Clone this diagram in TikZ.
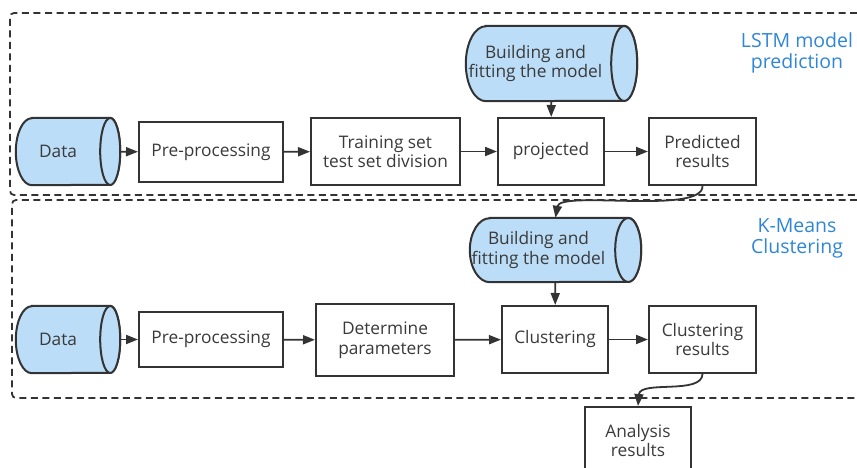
\documentclass[tikz,border=0pt]{standalone}
\usepackage{fontspec}
\setmainfont{Open Sans}
\usetikzlibrary{arrows.meta,backgrounds}

\definecolor{cylblue}{HTML}{BCDDF7}
\definecolor{ink}{HTML}{3A3A3A}
\definecolor{tagblue}{HTML}{2F86D6}
\definecolor{edge}{HTML}{333333}

\tikzset{
  box/.style={draw=edge, line width=2pt, fill=white, text=ink, align=center,
    font=\fontsize{17.3}{19.5}\selectfont, inner sep=0pt},
  cylnode/.style={inner sep=0pt},
  cyltext/.style={text=ink, align=center, font=\fontsize{17.3}{19.5}\selectfont, inner sep=0pt},
  cylbody/.style={draw=edge, fill=cylblue, line width=2pt},
  flow/.style={draw=edge, line width=1.8pt, -{Triangle[length=12pt,width=9pt]}},
  frame/.style={draw=edge, line width=1.8pt, dash pattern=on 7pt off 4.5pt, rounded corners=4pt},
  tag/.style={text=tagblue, align=center, font=\fontsize{19.5}{21}\selectfont},
}

% horizontal drum: rounded left end (#2 = its depth), visible elliptical face
% on the right (#3 = its half-width), #4 = half-height
\newcommand\cylshape[4]{%
  \filldraw[cylbody] ([xshift=#2]#1.north west) -- ([xshift=-#3]#1.north east)
    arc[start angle=90,end angle=-90,x radius=#3,y radius=#4]
    -- ([xshift=#2]#1.south west)
    arc[start angle=270,end angle=90,x radius=#2,y radius=#4] -- cycle;
  \draw[cylbody] ([xshift=-#3]#1.east) ellipse[x radius=#3,y radius=#4];}

\begin{document}
\begin{tikzpicture}[x=1pt,y=-1pt]
\useasboundingbox (0,0) rectangle (857,468);
\clip (0,0) rectangle (857,468);

% group frames
\draw[frame] (880,13) -- (10,13) -- (10,195) -- (880,195);
\draw[frame] (880,200) -- (12,200) -- (12,398) -- (880,398);

\node[tag] (lstm) at (797,53) {LSTM model\\prediction};
\node[tag] (kmeans) at (797,238) {K-Means\\Clustering};

% LSTM row
\node[cylnode, minimum width=104pt, minimum height=67pt,
  label={[cyltext, xshift=-10pt]center:Data}] (data1) at (68,151.5) {};
\node[box, minimum width=144pt, minimum height=60pt] (pre1) at (211,152) {Pre-processing};
\node[box, minimum width=149pt, minimum height=67pt] (split) at (385.5,151.5) {Training set\\test set division};
\node[box, minimum width=106pt, minimum height=67pt] (proj) at (551,151.5) {projected};
\node[box, minimum width=107pt, minimum height=67pt] (pred) at (702.5,151.5) {Predicted\\results};
\node[cylnode, minimum width=171pt, minimum height=75pt,
  label={[cyltext, xshift=-16pt]center:Building and\\fitting the model}] (fit1) at (551.5,63.5) {};

% K-Means row
\node[cylnode, minimum width=104pt, minimum height=67pt,
  label={[cyltext, xshift=-10pt]center:Data}] (data2) at (68,339.5) {};
\node[box, minimum width=144pt, minimum height=55pt] (pre2) at (211,339.5) {Pre-processing};
\node[box, minimum width=138pt, minimum height=72pt] (param) at (385,340) {Determine\\parameters};
\node[box, minimum width=106pt, minimum height=67pt] (clus) at (555,339.5) {Clustering};
\node[box, minimum width=107pt, minimum height=67pt] (cres) at (702.5,339.5) {Clustering\\results};
\node[cylnode, minimum width=171pt, minimum height=64pt,
  label={[cyltext, xshift=-17pt]center:Building and\\fitting the model}] (fit2) at (555.5,250) {};
\node[box, minimum width=106pt, minimum height=67pt] (anal) at (638,440.5) {Analysis\\results};

\begin{scope}[on background layer]
  \cylshape{data1}{16pt}{10pt}{33.5pt}
  \cylshape{fit1}{20pt}{13pt}{37.5pt}
  \cylshape{data2}{16pt}{10pt}{33.5pt}
  \cylshape{fit2}{20pt}{13pt}{32pt}
\end{scope}

% connectors
\draw[flow] (data1) -- (pre1);
\draw[flow] (pre1) -- (split);
\draw[flow] (split) -- (proj);
\draw[flow] (proj) -- (pred);
\draw[flow] (fit1) -- (proj);
\draw[flow] (pred.south) .. controls (703,215) and (560,190) .. (fit2.north);

\draw[flow] (data2) -- (pre2);
\draw[flow] (pre2) -- (param);
\draw[flow] (param) -- (clus);
\draw[flow] (clus) -- (cres);
\draw[flow] (fit2) -- (clus);
\draw[flow] (cres.south) .. controls (702,395) and (640,380) .. (anal.north);
\end{tikzpicture}
\end{document}
